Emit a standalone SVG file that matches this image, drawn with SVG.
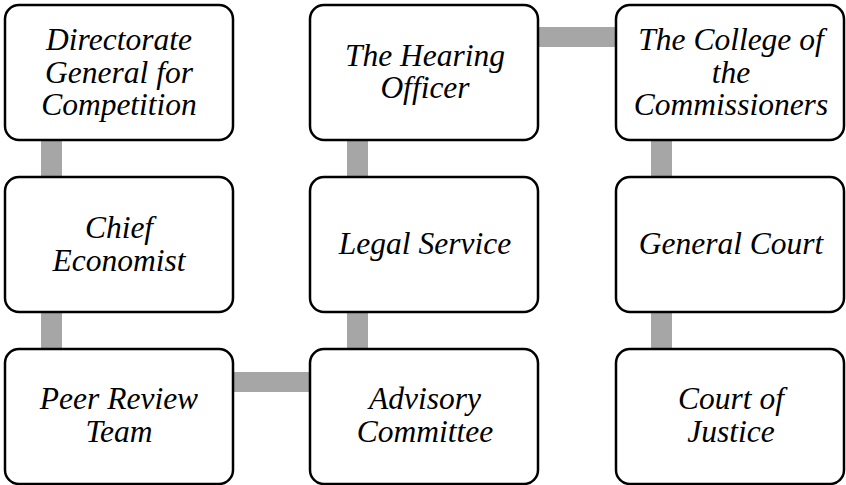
<svg xmlns="http://www.w3.org/2000/svg" width="846" height="485" viewBox="0 0 846 485">
<style>
.node rect{fill:#fff;stroke:#000;stroke-width:2.5}
.node text{font-family:'Liberation Serif','Times New Roman',serif;font-style:italic;font-size:31.5px;fill:#000;text-anchor:middle}
.conn rect{fill:#a6a6a6}
</style>
<rect width="846" height="485" fill="#fff"/>
<g id="connectors" class="conn">
<rect x="41" y="140" width="21" height="38"/>
<rect x="41" y="312" width="21" height="38"/>
<rect x="347" y="140" width="21" height="38"/>
<rect x="347" y="312" width="21" height="38"/>
<rect x="651" y="140" width="21" height="38"/>
<rect x="651" y="312" width="21" height="38"/>
<rect x="537" y="27" width="81" height="20"/>
<rect x="231" y="372" width="81" height="20"/>
</g>
<g id="n-dg" class="node"><rect x="5" y="5" width="228" height="135" rx="14"/>
<text x="119" y="50">Directorate</text>
<text x="119" y="82.5">General for</text>
<text x="119" y="115">Competition</text></g>
<g id="n-ho" class="node"><rect x="310" y="5" width="228" height="135" rx="14"/>
<text x="425" y="65.5">The Hearing</text>
<text x="425" y="98">Officer</text></g>
<g id="n-cc" class="node"><rect x="616" y="5" width="228" height="135" rx="14"/>
<text x="731" y="50">The College of</text>
<text x="731" y="82.5">the</text>
<text x="731" y="115">Commissioners</text></g>
<g id="n-ce" class="node"><rect x="5" y="177" width="228" height="135" rx="14"/>
<text x="119" y="237.5">Chief</text>
<text x="119" y="270.5">Economist</text></g>
<g id="n-ls" class="node"><rect x="310" y="177" width="228" height="135" rx="14"/>
<text x="425" y="253.5">Legal Service</text></g>
<g id="n-gc" class="node"><rect x="616" y="177" width="228" height="135" rx="14"/>
<text x="731" y="253.5">General Court</text></g>
<g id="n-pr" class="node"><rect x="5" y="349" width="228" height="135" rx="14"/>
<text x="119" y="409">Peer Review</text>
<text x="119" y="441.5">Team</text></g>
<g id="n-ac" class="node"><rect x="310" y="349" width="228" height="135" rx="14"/>
<text x="425" y="409">Advisory</text>
<text x="425" y="441.5">Committee</text></g>
<g id="n-cj" class="node"><rect x="616" y="349" width="228" height="135" rx="14"/>
<text x="731" y="409">Court of</text>
<text x="731" y="441.5">Justice</text></g>
</svg>
